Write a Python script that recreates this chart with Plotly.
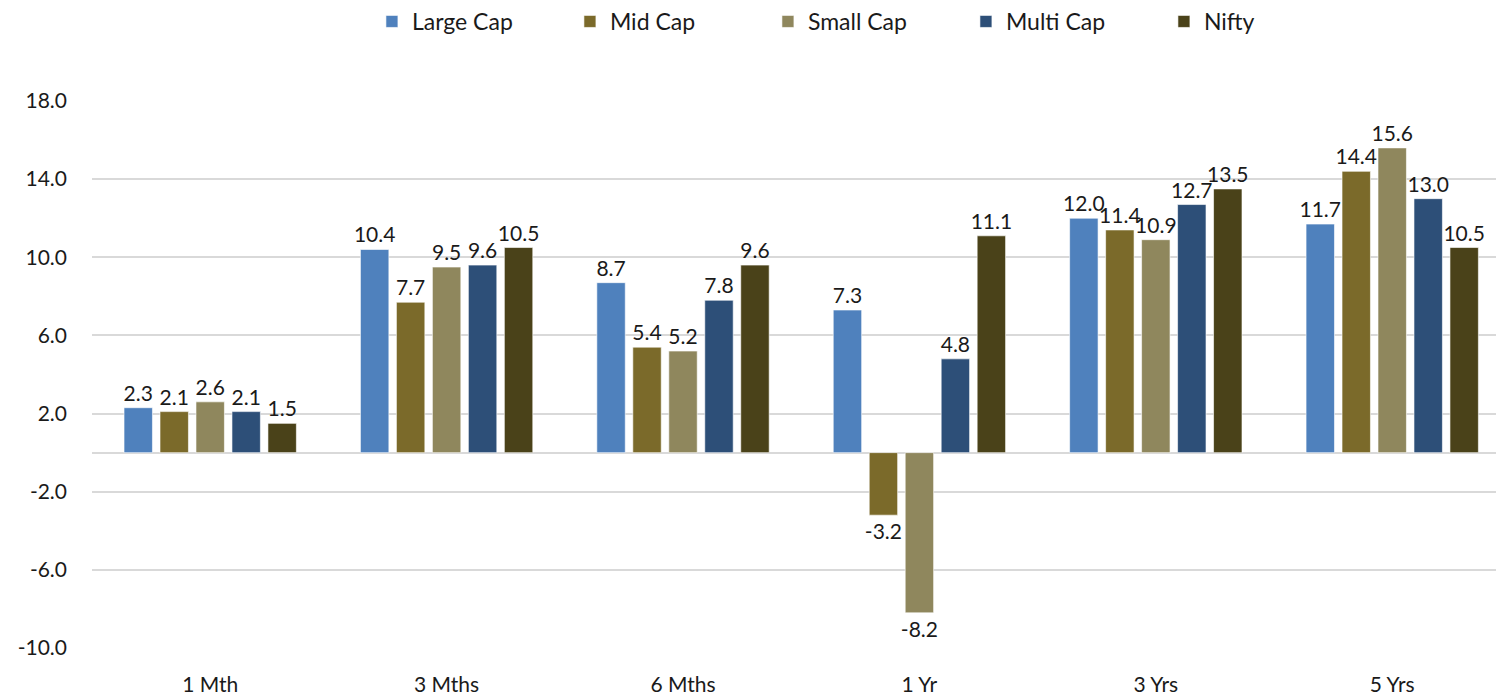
import plotly.graph_objects as go

categories = ["1 Mth", "3 Mths", "6 Mths", "1 Yr", "3 Yrs", "5 Yrs"]
large_cap = [2.3, 10.4, 8.7, 7.3, 12.0, 11.7]
mid_cap = [2.1, 7.7, 5.4, -3.2, 11.4, 14.4]
small_cap = [2.6, 9.5, 5.2, -8.2, 10.9, 15.6]
multi_cap = [2.1, 9.6, 7.8, 4.8, 12.7, 13.0]
nifty = [1.5, 10.5, 9.6, 11.1, 13.5, 10.5]

series_names = ["Large Cap", "Mid Cap", "Small Cap", "Multi Cap", "Nifty"]
series_values = [large_cap, mid_cap, small_cap, multi_cap, nifty]
colors = ["#4F81BD", "#7B6A2A", "#8F875D", "#2D4F78", "#4A4219"]

y_ticks = [-10, -6, -2, 2, 6, 10, 14, 18]
y_tick_labels = ["-10.0", "-6.0", "-2.0", "2.0", "6.0", "10.0", "14.0", "18.0"]

FONT = "Lato, 'Open Sans', sans-serif"

fig = go.Figure()
for name, vals, col in zip(series_names, series_values, colors):
    fig.add_trace(go.Bar(
        name=name, x=categories, y=vals,
        marker=dict(color=col, line=dict(color="rgba(255,255,255,0.6)", width=1)),
        text=[f"{v:.1f}" for v in vals], textposition="outside",
        textfont=dict(size=21, color="#1a1a1a", family=FONT),
        constraintext="none", cliponaxis=False,
    ))

fig.update_layout(
    width=1496, height=696,
    margin=dict(l=92, r=0, t=101, b=46),
    paper_bgcolor="white", plot_bgcolor="white",
    barmode="group", bargap=0.239, bargroupgap=0.21,
    font=dict(family=FONT, size=21, color="#1a1a1a"),
    legend=dict(orientation="h", x=0.5795, xanchor="center", y=1.0, yanchor="top",
                yref="container", xref="container", font=dict(size=23, color="#1a1a1a"),
                entrywidth=153, entrywidthmode="pixels", traceorder="normal",
                itemwidth=30),
    showlegend=True,
)
fig.update_xaxes(range=[-0.5, 5.439], showgrid=False, showline=False, ticks="",
                 ticklabelstandoff=22, tickfont=dict(size=21))
fig.update_yaxes(range=[-10, 18], tickvals=y_ticks, ticktext=y_tick_labels,
                 showgrid=True, gridcolor="#D9D9D9", gridwidth=1.5,
                 zeroline=True, zerolinecolor="#D9D9D9", zerolinewidth=1.5,
                 showline=False, ticks="", ticklabelstandoff=24, tickfont=dict(size=21))

fig.write_html("out.html")
